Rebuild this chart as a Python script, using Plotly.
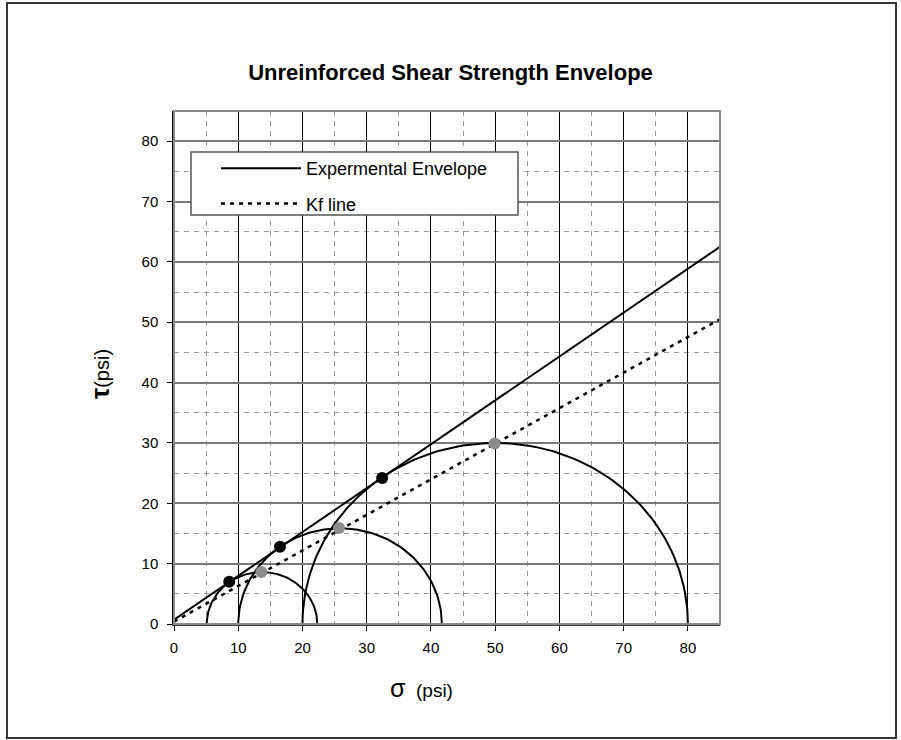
import numpy as np
import plotly.graph_objects as go

# ---------------- data ----------------
env_sigma = [0, 85]
env_tau = [0.7, 62.5]
kf_sigma = [0, 85]
kf_tau = [0.4, 50.5]
circle_center = [13.7, 25.85, 50.0]
circle_radius = [8.6, 15.85, 30.0]
tangent_sigma = [8.6, 16.5, 32.4]
tangent_tau = [7.0, 12.8, 24.2]
top_sigma = [13.6, 25.7, 49.9]
top_tau = [8.6, 15.9, 29.9]
tick_vals = [0, 10, 20, 30, 40, 50, 60, 70, 80]
tick_text = ["0", "10", "20", "30", "40", "50", "60", "70", "80"]

FONT = "Liberation Sans, Arial, sans-serif"

fig = go.Figure()

# Mohr circles (upper halves), drawn from centre and radius
theta = np.linspace(0, np.pi, 121)
for c, r in zip(circle_center, circle_radius):
    fig.add_trace(go.Scatter(
        x=c + r * np.cos(theta), y=r * np.sin(theta), mode="lines",
        line=dict(color="black", width=2), showlegend=False, hoverinfo="skip"))

fig.add_trace(go.Scatter(
    x=env_sigma, y=env_tau, mode="lines", name="Expermental Envelope",
    legendgroup="env", line=dict(color="black", width=2)))
fig.add_trace(go.Scatter(
    x=kf_sigma, y=kf_tau, mode="lines", name="Kf line",
    legendgroup="kf", line=dict(color="black", width=2.5, dash="4px,5px")))

fig.add_trace(go.Scatter(
    x=tangent_sigma, y=tangent_tau, mode="markers", showlegend=False,
    marker=dict(color="black", size=12)))
fig.add_trace(go.Scatter(
    x=top_sigma, y=top_tau, mode="markers", showlegend=False,
    marker=dict(color="#8c8c8c", size=12)))

axis_common = dict(
    range=[0, 85], tickvals=tick_vals, ticktext=tick_text,
    ticks="outside", ticklen=5, tickcolor="black",
    tickfont=dict(family=FONT, size=15, color="black"),
    showgrid=True, zeroline=False, showline=True,
    minor=dict(dtick=5, tick0=0, showgrid=True, gridcolor="#9a9a9a",
               griddash="5px,5px", gridwidth=1),
)

fig.update_xaxes(**axis_common, gridcolor="black", gridwidth=1,
                 linecolor="#3a3a3a", linewidth=2, ticklabelstandoff=4)
fig.update_yaxes(**axis_common, gridcolor="#7a7a7a", gridwidth=1.5,
                 linecolor="black", linewidth=1.5, ticklabelstandoff=6)

PW, PH, L, T = 546, 513, 174, 111


def px_x(p):
    return (p - L) / PW


def px_y(p):
    return (T + PH - p) / PH


fig.update_layout(
    width=901, height=740,
    margin=dict(l=174, r=181, t=111, b=116),
    paper_bgcolor="white", plot_bgcolor="white",
    font=dict(family=FONT, color="black"),
    title=dict(text="<b>Unreinforced Shear Strength Envelope</b>",
               x=0.5, xanchor="center", y=1 - 72 / 740, yanchor="middle",
               font=dict(family=FONT, size=22, color="black")),
    legend=dict(x=px_x(216), y=px_y(150), xanchor="left", yanchor="top",
                bgcolor="rgba(0,0,0,0)", borderwidth=0,
                font=dict(family=FONT, size=18, color="black"),
                itemwidth=80, tracegroupgap=9),
    showlegend=True,
    shapes=[
        # plot area frame (top / right in grey)
        dict(type="rect", xref="paper", yref="paper", x0=0, y0=0, x1=1, y1=1,
             line=dict(color="#8a8a8a", width=2), layer="above"),
        # legend box
        dict(type="rect", xref="paper", yref="paper",
             x0=px_x(191), x1=px_x(518), y0=px_y(215), y1=px_y(152),
             fillcolor="white", line=dict(color="#555", width=1.5), layer="above"),
        # outer chart frame
        dict(type="rect", xref="paper", yref="paper",
             x0=px_x(7), x1=px_x(896), y0=px_y(738), y1=px_y(3),
             line=dict(color="#333", width=2)),
    ],
    annotations=[
        dict(text="σ<span style='font-size:19px'>  (psi)</span>",
             xref="paper", yref="paper", x=px_x(421), y=px_y(688),
             xanchor="center", yanchor="middle", showarrow=False,
             font=dict(family=FONT, size=25, color="black")),
        dict(text="<b>τ</b><span style='font-size:20px'>(psi)</span>",
             xref="paper", yref="paper", x=px_x(100), y=px_y(374),
             xanchor="center", yanchor="middle", showarrow=False, textangle=-90,
             font=dict(family=FONT, size=25, color="black")),
    ],
)

fig.write_html("out.html")
